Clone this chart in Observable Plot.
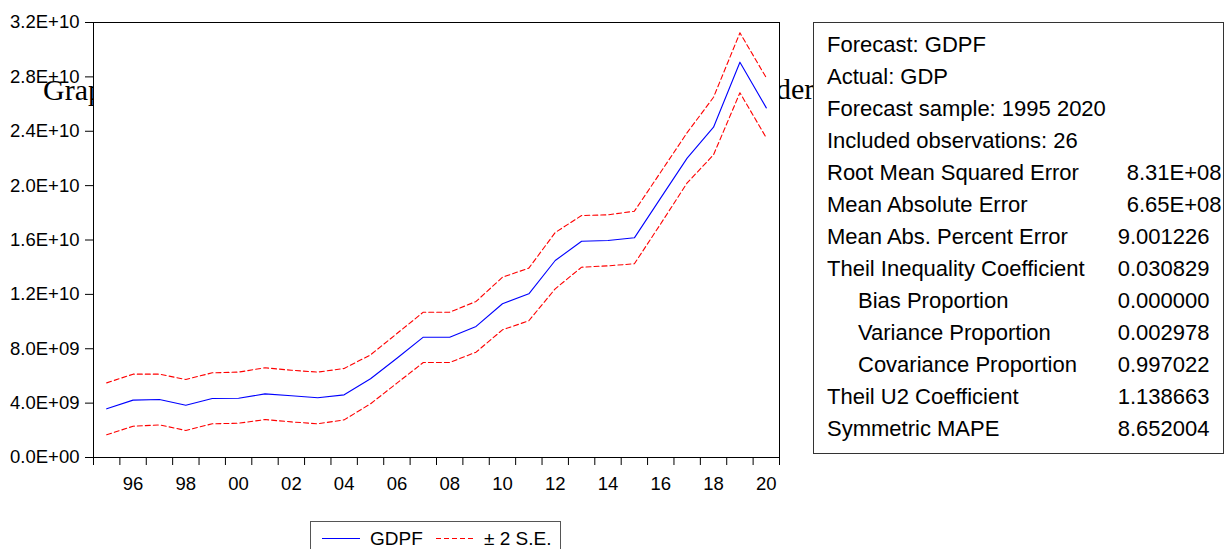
<!DOCTYPE html>
<html>
<head>
<meta charset="utf-8">
<script src="https://cdn.jsdelivr.net/npm/d3@7"></script>
<script src="https://cdn.jsdelivr.net/npm/@observablehq/plot@0.6"></script>
<style>
  html, body { margin: 0; padding: 0; background: white; }
  #wrap { position: relative; width: 1231px; height: 549px; overflow: hidden; background: white; }
  #wrap > svg { position: absolute; left: 0; top: 0; }
  #bg { z-index: 0; }
  #chart { position: absolute; left: 0; top: 0; z-index: 1; }
  #over { z-index: 2; pointer-events: none; }
</style>
</head>
<body>
<div id="wrap">
  <svg id="bg" width="1231" height="549"></svg>
  <div id="chart"></div>
  <svg id="over" width="1231" height="549"></svg>
</div>
<script>
// ---- data ----
const years = [1995,1996,1997,1998,1999,2000,2001,2002,2003,2004,2005,2006,2007,2008,2009,2010,2011,2012,2013,2014,2015,2016,2017,2018,2019,2020];
const gdpf  = [3.58,4.22,4.27,3.85,4.34,4.36,4.68,4.54,4.39,4.61,5.79,7.30,8.85,8.85,9.64,11.31,12.04,14.49,15.91,15.96,16.16,19.10,22.02,24.30,29.08,25.72];
const upper = [5.49,6.13,6.13,5.74,6.23,6.28,6.60,6.42,6.28,6.55,7.55,9.12,10.69,10.69,11.48,13.26,13.93,16.55,17.80,17.85,18.12,21.00,23.90,26.50,31.24,27.93];
const lower = [1.67,2.30,2.40,1.99,2.48,2.52,2.79,2.62,2.48,2.77,3.95,5.47,6.99,6.99,7.75,9.39,10.06,12.41,14.00,14.10,14.25,17.20,20.20,22.27,26.83,23.52];
const unit = 1e9;
const yTicks = [0, 4e9, 8e9, 1.2e10, 1.6e10, 2.0e10, 2.4e10, 2.8e10, 3.2e10];
const xLabelYears = [1996,1998,2000,2002,2004,2006,2008,2010,2012,2014,2016,2018,2020];

const statLabels = ["Forecast: GDPF","Actual: GDP","Forecast sample: 1995 2020","Included observations: 26","Root Mean Squared Error","Mean Absolute Error","Mean Abs. Percent Error","Theil Inequality Coefficient","Bias Proportion","Variance Proportion","Covariance Proportion","Theil U2 Coefficient","Symmetric MAPE"];
const statValues = ["","","","","8.31E+08","6.65E+08","9.001226","0.030829","0.000000","0.002978","0.997022","1.138663","8.652004"];
const statIndented = [false,false,false,false,false,false,false,false,true,true,true,false,false];

const legendLabels = ["GDPF", "\u00B1 2 S.E."];

// ---- build table ----
const rows = years.map((y, i) => ({year: y, f: gdpf[i] * unit, u: upper[i] * unit, l: lower[i] * unit}));
const boundaries = d3.range(years[0] - 0.5, years[years.length - 1] + 1, 1);

function fmtE(d) {
  if (d === 0) return "0.0E+00";
  const e = Math.floor(Math.log10(d) + 1e-9);
  const m = d / Math.pow(10, e);
  return m.toFixed(1) + "E+" + String(e).padStart(2, "0");
}

const FONT = "'Liberation Sans', Arial, Helvetica, sans-serif";

const plot = Plot.plot({
  width: 1231,
  height: 549,
  marginLeft: 93,
  marginRight: 452,
  marginTop: 22,
  marginBottom: 92,
  style: {background: "transparent", fontFamily: FONT, fontSize: "18.5px", color: "black"},
  x: {domain: [years[0] - 0.5, years[years.length - 1] + 0.5]},
  y: {domain: [0, 3.2e10]},
  marks: [
    Plot.frame({fill: "white", stroke: "black", strokeWidth: 1}),
    Plot.axisY({ticks: yTicks, tickSize: 8, tickPadding: 6, tickFormat: fmtE, label: null, stroke: "black"}),
    Plot.axisX({ticks: boundaries, tickSize: 8, tickFormat: () => "", label: null, stroke: "black"}),
    Plot.axisX({ticks: xLabelYears, tickSize: 0, tickPadding: 19, tickFormat: d => String(d).slice(2), label: null}),
    Plot.line(rows, {x: "year", y: "u", stroke: "#ff0000", strokeWidth: 1.1, strokeDasharray: "5,3"}),
    Plot.line(rows, {x: "year", y: "l", stroke: "#ff0000", strokeWidth: 1.1, strokeDasharray: "5,3"}),
    Plot.line(rows, {x: "year", y: "f", stroke: "#0000ff", strokeWidth: 1.1})
  ]
});
document.getElementById("chart").appendChild(plot);

// ---- background stray title text (partly hidden behind chart) ----
const bg = d3.select("#bg");
bg.append("text").attr("x", 43).attr("y", 100)
  .attr("font-family", "'Liberation Serif', 'Times New Roman', serif").attr("font-size", 30)
  .text("Graph");
bg.append("text").attr("x", 776).attr("y", 99)
  .attr("font-family", "'Liberation Serif', 'Times New Roman', serif").attr("font-size", 30)
  .text("der");

// ---- statistics box ----
const over = d3.select("#over");
over.append("rect").attr("x", 813.5).attr("y", 22.5).attr("width", 410).attr("height", 431)
  .attr("fill", "white").attr("stroke", "#333").attr("stroke-width", 1);
const sg = over.append("g").attr("font-family", FONT).attr("font-size", 22).attr("fill", "black");
statLabels.forEach((lab, i) => {
  const yb = 52 + 32 * i;
  sg.append("text").attr("x", statIndented[i] ? 858 : 827).attr("y", yb).text(lab);
  if (statValues[i]) {
    const isE = statValues[i].includes("E");
    sg.append("text").attr("x", isE ? 1221.5 : 1209.5).attr("y", yb).attr("text-anchor", "end").text(statValues[i]);
  }
});

// ---- legend ----
over.append("rect").attr("x", 310.5).attr("y", 521.5).attr("width", 250).attr("height", 40)
  .attr("fill", "white").attr("stroke", "#555").attr("stroke-width", 1);
over.append("line").attr("x1", 322).attr("x2", 360).attr("y1", 538.5).attr("y2", 538.5)
  .attr("stroke", "#0000ff").attr("stroke-width", 1.1);
over.append("line").attr("x1", 436).attr("x2", 475).attr("y1", 538.5).attr("y2", 538.5)
  .attr("stroke", "#ff0000").attr("stroke-width", 1.1).attr("stroke-dasharray", "5,3");
const lg = over.append("g").attr("font-family", FONT).attr("font-size", 19).attr("fill", "black");
lg.append("text").attr("x", 370).attr("y", 544.5).text(legendLabels[0]);
lg.append("text").attr("x", 484).attr("y", 544.5).text(legendLabels[1]);
</script>
</body>
</html>
